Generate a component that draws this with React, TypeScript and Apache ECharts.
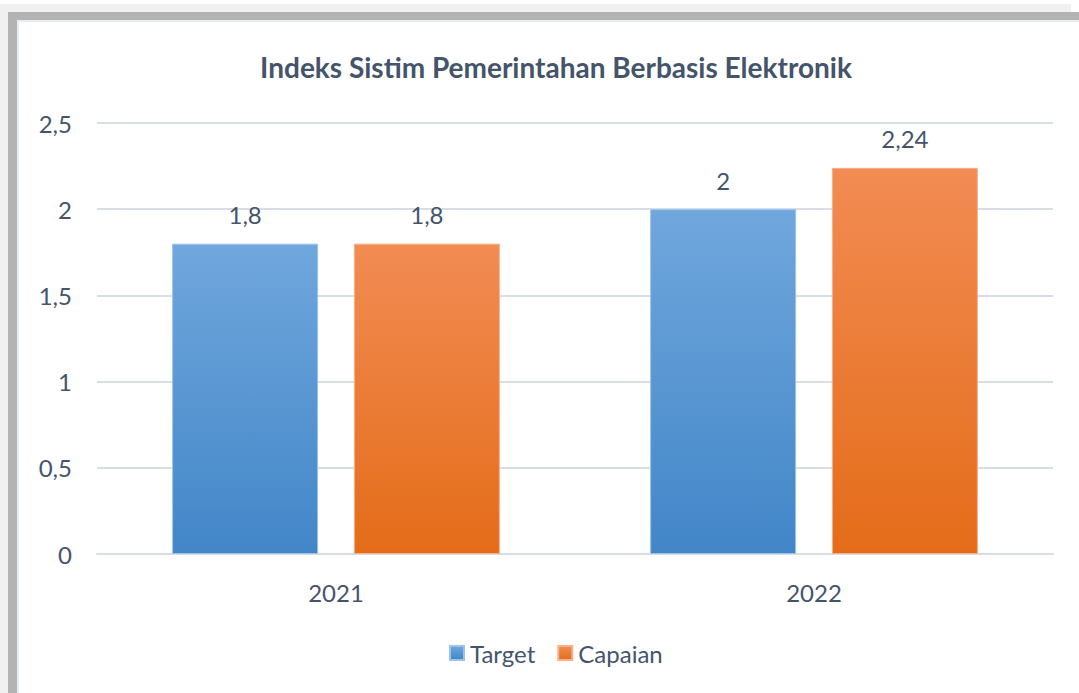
import React, { useEffect, useRef } from "react";
import * as echarts from "echarts";

const categories = ["2021", "2022"];
const targetValues = [1.8, 2];
const capaianValues = [1.8, 2.24];
const yTicks = { min: 0, max: 2.5, interval: 0.5 };
const titleText = "Indeks Sistim Pemerintahan Berbasis Elektronik";

const FONT = "Lato, 'Open Sans', sans-serif";
const TEXT = "#44546a";
const fmt = (v: number) => String(v).replace(".", ",");

export default function App() {
  const ref = useRef<HTMLDivElement>(null);
  useEffect(() => {
    if (!ref.current) return;
    const chart = echarts.init(ref.current, undefined, { renderer: "svg" });
    const grad = (top: string, bottom: string) =>
      new echarts.graphic.LinearGradient(0, 0, 0, 1, [
        { offset: 0, color: top },
        { offset: 1, color: bottom },
      ]);
    const labelStyle = {
      show: true,
      position: "top",
      distance: 17,
      fontFamily: FONT,
      fontSize: 24,
      color: TEXT,
      formatter: (p: any) => fmt(p.value),
    };
    chart.setOption({
      animation: false,
      backgroundColor: "#ffffff",
      graphic: [
        { type: "rect", z: -10, shape: { x: 0, y: 4, width: 1071, height: 689 }, style: { fill: "#f0f0f0" } },
        { type: "rect", z: -9, shape: { x: 8, y: 12, width: 1071, height: 681 }, style: { fill: "#b3b3b3" } },
        { type: "rect", z: -8, shape: { x: 17, y: 20, width: 1062, height: 673 }, style: { fill: "#e7ecf4" } },
        { type: "rect", z: -7, shape: { x: 19, y: 22, width: 1060, height: 671 }, style: { fill: "#ffffff" } },
      ],
      title: {
        text: titleText,
        left: 551,
        textAlign: "center",
        top: 48,
        textStyle: { fontFamily: FONT, fontSize: 28, fontWeight: "bold", color: TEXT },
      },
      legend: {
        bottom: 23,
        left: 444,
        itemWidth: 14,
        itemHeight: 14,
        itemGap: 22,
        icon: "rect",
        textStyle: { fontFamily: FONT, fontSize: 24, color: TEXT, padding: [0, 0, 0, 1] },
        data: ["Target", "Capaian"],
      },
      grid: { left: 97, right: 26, top: 123, bottom: 139 },
      xAxis: {
        type: "category",
        data: categories,
        axisLine: { lineStyle: { color: "#d9dde6", width: 2 } },
        axisTick: { show: false },
        axisLabel: { fontFamily: FONT, fontSize: 24, color: TEXT, margin: 26 },
      },
      yAxis: {
        type: "value",
        min: yTicks.min,
        max: yTicks.max,
        interval: yTicks.interval,
        axisLine: { show: false },
        axisTick: { show: false },
        splitLine: { lineStyle: { color: "#d9dde6", width: 2 } },
        axisLabel: { fontFamily: FONT, fontSize: 24, color: TEXT, margin: 25, formatter: (v: number) => fmt(v) },
      },
      series: [
        {
          name: "Target",
          type: "bar",
          data: targetValues,
          barWidth: 146,
          barGap: "24.5%",
          itemStyle: { color: grad("#70a7dd", "#4286c8"), borderColor: "#9cc3ea", borderWidth: 1 },
          label: labelStyle,
        },
        {
          name: "Capaian",
          type: "bar",
          data: capaianValues,
          barWidth: 146,
          itemStyle: { color: grad("#f28c53", "#e46c19"), borderColor: "#f6b08a", borderWidth: 1 },
          label: labelStyle,
        },
      ],
    });
    return () => chart.dispose();
  }, []);
  return (
    <div
      ref={ref}
      style={{ position: "fixed", left: 0, top: 0, width: 1079, height: 693 }}
    />
  );
}
